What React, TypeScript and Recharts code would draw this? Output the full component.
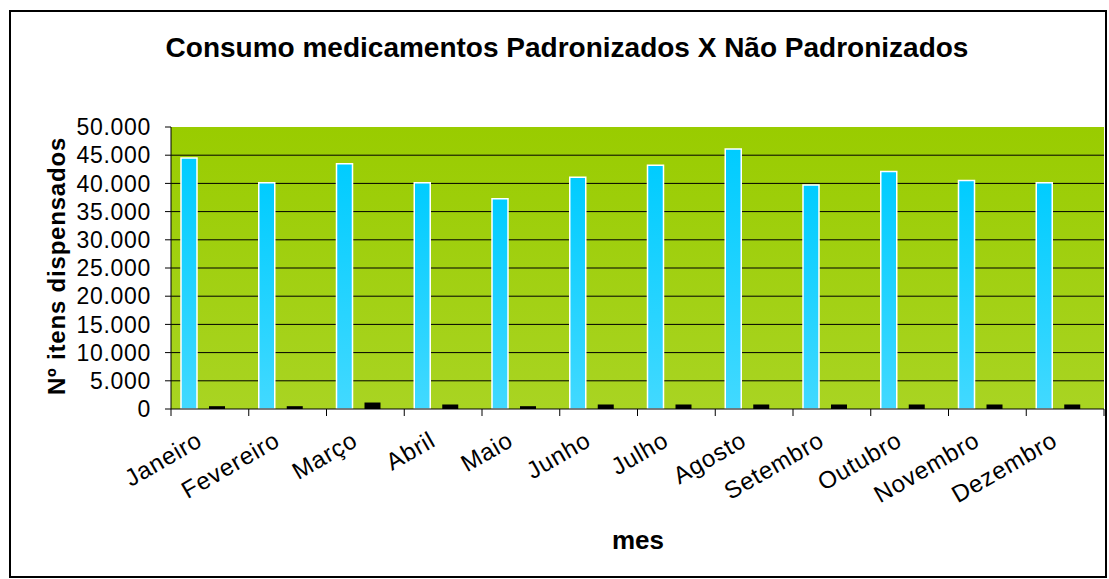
import { Bar, BarChart, CartesianGrid, Rectangle, XAxis, YAxis } from "recharts"

const months = [
  "Janeiro", "Fevereiro", "Março", "Abril", "Maio", "Junho",
  "Julho", "Agosto", "Setembro", "Outubro", "Novembro", "Dezembro",
]
const padronizados = [44500, 40100, 43500, 40100, 37300, 41100, 43200, 46100, 39700, 42100, 40500, 40100]
const naoPadronizados = [500, 500, 1150, 800, 500, 800, 800, 800, 800, 800, 800, 800]
const yTicks = [0, 5000, 10000, 15000, 20000, 25000, 30000, 35000, 40000, 45000, 50000]

const data = months.map((mes, i) => ({
  mes,
  padronizados: padronizados[i],
  naoPadronizados: naoPadronizados[i],
}))

const W = 1109
const H = 579
const PLOT_LEFT = 171
const PLOT_RIGHT = 1104
const PLOT_TOP = 127
const PLOT_BOTTOM = 409
const FONT = '"Liberation Sans", Arial, sans-serif'

// 5000 -> "5.000"
const fmt = (v: number) => String(v).replace(/\B(?=(\d{3})+(?!\d))/g, ".")

function MonthTick(props: any) {
  const { x, payload, index } = props
  const band = (PLOT_RIGHT - PLOT_LEFT) / months.length
  const left = x - band / 2
  const tx = x - 6
  const ty = 445
  return (
    <g>
      <line x1={left} y1={PLOT_BOTTOM} x2={left} y2={PLOT_BOTTOM + 7} stroke="#000" />
      {index === months.length - 1 && (
        <line x1={left + band} y1={PLOT_BOTTOM} x2={left + band} y2={PLOT_BOTTOM + 7} stroke="#000" />
      )}
      <text
        x={tx}
        y={ty}
        textAnchor="end"
        transform={`rotate(-30, ${tx}, ${ty})`}
        fontSize={24}
        letterSpacing={0.8}
        fontFamily={FONT}
        fill="#000"
      >
        {payload.value}
      </text>
    </g>
  )
}

// excel puts the pair a little left of the category centre
const ShiftedBar = (props: any) => <Rectangle {...props} x={props.x - 7} />

export default function App() {
  return (
    <div style={{ position: "absolute", left: 0, top: 0, width: W, height: H, background: "#fff" }}>
      <div
        style={{
          position: "absolute",
          left: 9,
          top: 10,
          width: 1098,
          height: 568,
          border: "2px solid #000",
          boxSizing: "border-box",
        }}
      />
      <div style={{ position: "absolute", left: 0, top: 0 }}>
        <BarChart
          width={W}
          height={H}
          data={data}
          barSize={16}
          barGap={12}
          margin={{ top: PLOT_TOP, right: W - PLOT_RIGHT, bottom: 0, left: 0 }}
        >
          <defs>
            <linearGradient id="plotBg" x1="0" y1="0" x2="0" y2="1">
              <stop offset="0%" stopColor="#99cc00" />
              <stop offset="100%" stopColor="#a9d422" />
            </linearGradient>
            <linearGradient id="cyanGrad" x1="0" y1="0" x2="0" y2="1">
              <stop offset="0%" stopColor="#00ccff" />
              <stop offset="100%" stopColor="#42d9ff" />
            </linearGradient>
          </defs>
          <CartesianGrid
            vertical={false}
            horizontalValues={yTicks.slice(1, -1)}
            stroke="#000"
            strokeOpacity={1}
            fill="url(#plotBg)"
            fillOpacity={1}
          />
          <XAxis
            dataKey="mes"
            height={H - PLOT_BOTTOM}
            axisLine={{ stroke: "#000" }}
            tickLine={false}
            tick={<MonthTick />}
            interval={0}
          />
          <YAxis
            width={PLOT_LEFT}
            domain={[0, 50000]}
            ticks={yTicks}
            interval={0}
            tickFormatter={fmt}
            axisLine={{ stroke: "#000" }}
            tickLine={{ stroke: "#000" }}
            tickSize={6}
            tickMargin={14}
            tick={{ fill: "#000", fontSize: 23, fontFamily: FONT, letterSpacing: 0.7 }}
          />
          <Bar
            dataKey="padronizados"
            fill="url(#cyanGrad)"
            stroke="#fff"
            strokeWidth={1.5}
            shape={ShiftedBar}
            isAnimationActive={false}
          />
          <Bar dataKey="naoPadronizados" fill="#000" shape={ShiftedBar} isAnimationActive={false} />
          <text x={567} y={57} textAnchor="middle" fontSize={28} fontWeight="bold" fontFamily={FONT} fill="#000">
            Consumo medicamentos Padronizados X Não Padronizados
          </text>
          <text
            x={65}
            y={266}
            textAnchor="middle"
            transform="rotate(-90, 65, 266)"
            fontSize={24}
            letterSpacing={0.8}
            fontWeight="bold"
            fontFamily={FONT}
            fill="#000"
          >
            Nº itens dispensados
          </text>
          <text x={638} y={549} textAnchor="middle" fontSize={26} fontWeight="bold" fontFamily={FONT} fill="#000">
            mes
          </text>
        </BarChart>
      </div>
    </div>
  )
}
